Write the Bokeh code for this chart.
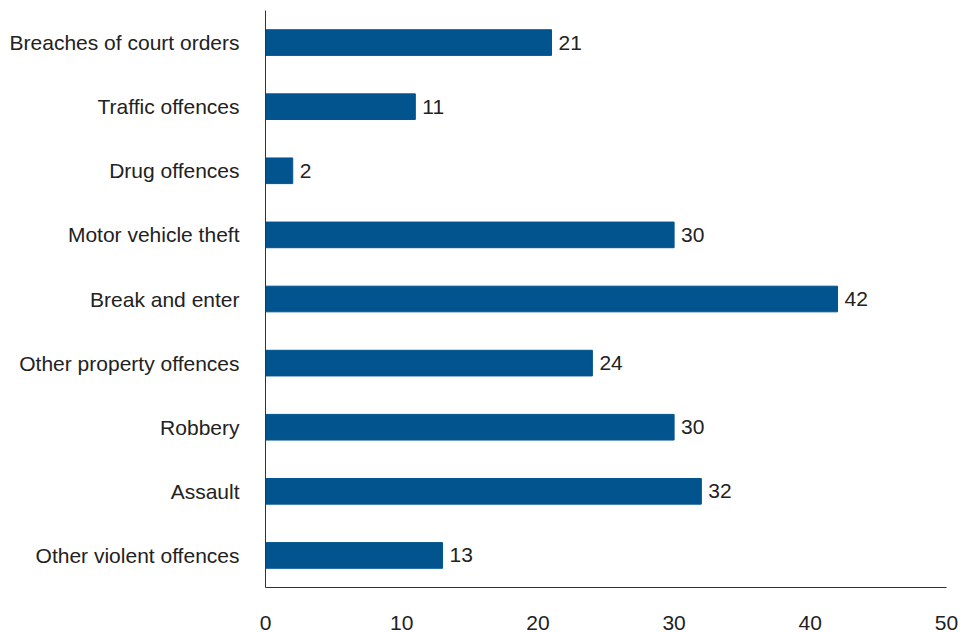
from bokeh.plotting import figure
from bokeh.models import Range1d, FactorRange, ColumnDataSource, FixedTicker
from bokeh.core.properties import value
from bokeh.embed import file_html
from bokeh.resources import INLINE

categories = ["Breaches of court orders", "Traffic offences", "Drug offences",
              "Motor vehicle theft", "Break and enter", "Other property offences",
              "Robbery", "Assault", "Other violent offences"]
values = [21, 11, 2, 30, 42, 24, 30, 32, 13]
x_ticks = [0, 10, 20, 30, 40, 50]

FONT = "Liberation Sans"
BAR = "#02548f"
FS = "21px"

src = ColumnDataSource(dict(cat=categories, val=values, lab=[str(v) for v in values]))

p = figure(width=964, height=632, output_backend="svg", toolbar_location=None,
           y_range=FactorRange(*reversed(categories)), x_range=Range1d(0, 50),
           min_border_left=265, min_border_right=18, min_border_top=10, min_border_bottom=45)

p.hbar(y="cat", right="val", left=0, height=0.4, source=src, color=BAR)
p.text(x="val", y="cat", text="lab", source=src, x_offset=7,
       text_align="left", text_baseline="middle", text_font=value(FONT),
       text_font_size=FS, text_color="#222222")

p.xgrid.visible = False
p.ygrid.visible = False
p.outline_line_color = None

for ax in (p.xaxis[0], p.yaxis[0]):
    ax.major_tick_line_color = None
    ax.minor_tick_line_color = None
    ax.axis_line_color = "#333333"
    ax.axis_line_width = 1
    ax.major_label_text_font = FONT
    ax.major_label_text_font_size = FS
    ax.major_label_text_color = "#222222"

p.xaxis[0].ticker = FixedTicker(ticks=x_ticks)
p.xaxis[0].major_label_standoff = 22
p.yaxis[0].major_label_standoff = 20

open("out.html", "w").write(file_html(p, INLINE))
